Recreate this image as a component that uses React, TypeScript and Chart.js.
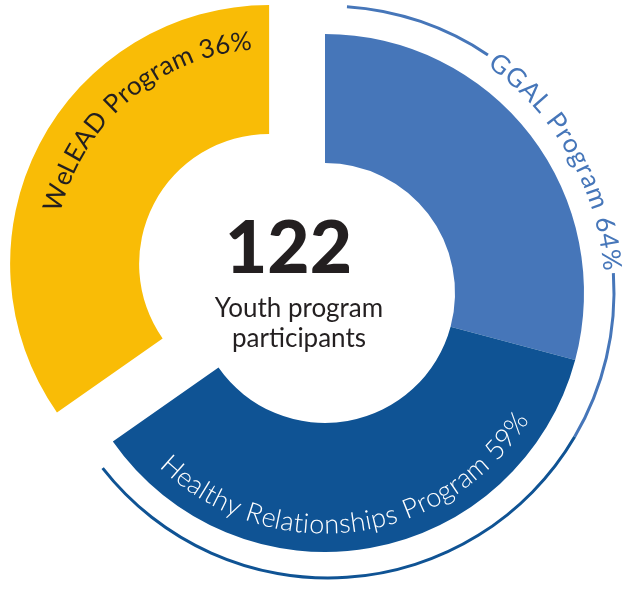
import React, { useEffect, useRef } from 'react';
import { Chart, registerables } from 'chart.js';

Chart.register(...registerables);

// Main ring: angular span (degrees, clockwise from 12 o'clock) of each programme segment
const programNames = ['GGAL Program', 'Healthy Relationships Program', 'WeLEAD Program'];
const programSpans = [105, 130, 125];
const programPercents = [64, 59, 36];
const programColors = ['#4676b9', '#0f5394', '#f9bc06'];

// Outer thin ring: spans (degrees, clockwise from 12 o'clock) of thin arcs and gaps
const outerArcNames = ['gap', 'GGAL', 'GGAL label gap', 'GGAL', 'Healthy Relationships', 'gap'];
const outerArcSpans = [3.8, 30.2, 52.2, 34.2, 111.6, 128];
const outerArcColors = ['rgba(0,0,0,0)', '#4676b9', 'rgba(0,0,0,0)', '#4676b9', '#0f5394', 'rgba(0,0,0,0)'];

const totalParticipants = 122;
const centerLines = ['Youth program', 'participants'];

const DARK = '#231f20';

type LabelStyle = {
  mid: number; // clockwise degrees from top
  r: number; // baseline radius
  cw: boolean;
  color: string;
  font: string;
  spacing: number;
  useRing: boolean;
};

const labelStyles: LabelStyle[] = [
  { mid: 60.4, r: 276.5, cw: true, color: '#4676b9', font: '400 26px Lato', spacing: 1, useRing: true },
  { mid: 172.8, r: 240.5, cw: false, color: '#ffffff', font: '300 27px Lato', spacing: 0.4, useRing: false },
  { mid: 319.6, r: 215, cw: true, color: DARK, font: '400 26px Lato', spacing: 0.3, useRing: false },
];

function drawArcText(
  ctx: CanvasRenderingContext2D,
  text: string,
  cx: number,
  cy: number,
  r: number,
  midDeg: number,
  cw: boolean,
  font: string,
  color: string,
  spacing: number
) {
  ctx.save();
  ctx.font = font;
  ctx.fillStyle = color;
  ctx.textAlign = 'center';
  ctx.textBaseline = 'alphabetic';
  const chars = Array.from(text);
  const total = ctx.measureText(text).width + spacing * (chars.length - 1);
  const mid = ((midDeg - 90) * Math.PI) / 180;
  const s = cw ? 1 : -1;
  const start = mid - (s * (total / 2)) / r;
  for (let i = 0; i < chars.length; i++) {
    const pre = ctx.measureText(chars.slice(0, i).join('')).width + spacing * i;
    const w = ctx.measureText(chars[i]).width;
    const a = start + (s * (pre + w / 2)) / r;
    ctx.save();
    ctx.translate(cx + r * Math.cos(a), cy + r * Math.sin(a));
    ctx.rotate(a + (s * Math.PI) / 2);
    ctx.fillText(chars[i], 0, 0);
    ctx.restore();
  }
  ctx.restore();
}

const RING_SHIFT_X = 3;
const RING_SHIFT_Y = -1;
const EXPLODE = 63;

const layoutPlugin = {
  id: 'layoutTweaks',
  beforeDatasetsDraw(chart: any) {
    const main = chart.getDatasetMeta(2);
    const ring = chart.getDatasetMeta(0);
    const cx = chart.chartArea.left + chart.chartArea.width / 2;
    const cy = chart.chartArea.top + chart.chartArea.height / 2;
    main.data.forEach((el: any, i: number) => {
      if (i === 2) {
        const m = (el.startAngle + el.endAngle) / 2;
        el.x = cx + Math.cos(m) * EXPLODE;
        el.y = cy + Math.sin(m) * EXPLODE;
      } else {
        el.x = cx;
        el.y = cy;
      }
    });
    ring.data.forEach((el: any) => {
      el.x = cx + RING_SHIFT_X;
      el.y = cy + RING_SHIFT_Y;
    });
  },
  afterDatasetsDraw(chart: any) {
    const ctx: CanvasRenderingContext2D = chart.ctx;
    const main = chart.getDatasetMeta(2);
    const ring = chart.getDatasetMeta(0);
    const cx = chart.chartArea.left + chart.chartArea.width / 2;
    const cy = chart.chartArea.top + chart.chartArea.height / 2;
    programNames.forEach((name, i) => {
      const st = labelStyles[i];
      const el = st.useRing ? ring.data[0] : main.data[i];
      drawArcText(ctx, `${name} ${programPercents[i]}%`, el.x, el.y, st.r, st.mid, st.cw, st.font, st.color, st.spacing);
    });
    ctx.save();
    ctx.fillStyle = DARK;
    ctx.textAlign = 'center';
    ctx.textBaseline = 'alphabetic';
    ctx.font = '900 73px Lato';
    ctx.fillText(String(totalParticipants), cx - 36.5, cy - 20);
    ctx.font = '400 26px Lato';
    ctx.fillText(centerLines[0], cx - 26, cy + 24);
    ctx.fillText(centerLines[1], cx - 26, cy + 54);
    ctx.restore();
  },
};

export default function App() {
  const ref = useRef<HTMLCanvasElement | null>(null);
  useEffect(() => {
    if (!ref.current) return;
    const outerR = 287.5;
    const innerR = 130;
    const chart = new Chart(ref.current, {
      type: 'doughnut',
      data: {
        labels: outerArcNames,
        datasets: [
          {
            label: 'outer arcs',
            data: outerArcSpans,
            backgroundColor: outerArcColors,
            borderWidth: 0,
            weight: 3,
            clip: false,
          } as any,
          {
            label: 'spacer',
            data: [360],
            backgroundColor: ['rgba(0,0,0,0)'],
            borderWidth: 0,
            weight: 25.5,
            clip: false,
          } as any,
          {
            label: 'programs',
            data: programSpans,
            backgroundColor: programColors,
            borderWidth: 0,
            weight: 129,
            clip: false,
          } as any,
        ],
      },
      options: {
        responsive: false,
        animation: false,
        events: [],
        radius: outerR,
        cutout: `${(innerR / outerR) * 100}%`,
        layout: { padding: { left: 27, right: 0, top: 0, bottom: 3 } },
        plugins: {
          legend: { display: false },
          tooltip: { enabled: false },
        },
      } as any,
      plugins: [layoutPlugin],
    });
    return () => chart.destroy();
  }, []);
  return (
    <div style={{ position: 'absolute', left: 0, top: 0, width: 623, height: 589, background: '#ffffff' }}>
      <canvas ref={ref} width={623} height={589} />
    </div>
  );
}
